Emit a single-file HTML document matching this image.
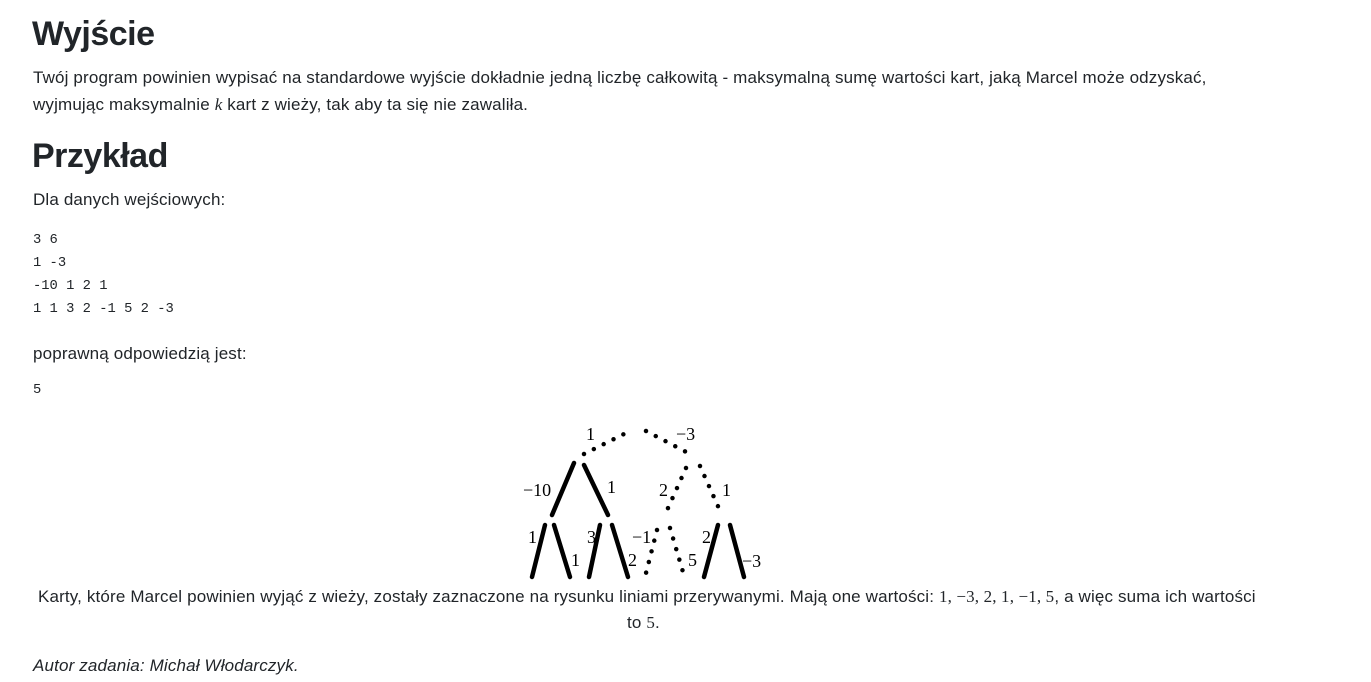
<!DOCTYPE html>
<html><head><meta charset="utf-8"><style>
body{margin:0;width:1371px;height:682px;background:#fff;color:#212529;font-family:"Liberation Sans",sans-serif;position:relative;overflow:hidden}
.a{position:absolute;white-space:nowrap}
h2{margin:0;font-size:34px;font-weight:bold;position:absolute;left:32px;letter-spacing:-0.5px}
.t{font-size:17px;letter-spacing:0.15px}
.m{font-family:"Liberation Mono",monospace;font-size:13.8px}
.i{font-family:"Liberation Serif",serif;font-style:italic}
</style></head><body>
<h2 style="top:15px">Wyjście</h2>
<div class="a t" style="left:33px;top:68px">Twój program powinien wypisać na standardowe wyjście dokładnie jedną liczbę całkowitą - maksymalną sumę wartości kart, jaką Marcel może odzyskać,</div>
<div class="a t" style="left:33px;top:95px">wyjmując maksymalnie <span class="i">k</span> kart z wieży, tak aby ta się nie zawaliła.</div>
<h2 style="top:137px">Przykład</h2>
<div class="a t" style="left:33px;top:190px">Dla danych wejściowych:</div>
<div class="a m" style="left:33px;top:229px;line-height:23px">3 6<br>1 -3<br>-10 1 2 1<br>1 1 3 2 -1 5 2 -3</div>
<div class="a t" style="left:33px;top:344px">poprawną odpowiedzią jest:</div>
<div class="a m" style="left:33px;top:383px">5</div>
<svg class="a" style="left:0;top:0" width="1371" height="682">
<g stroke="#000" stroke-width="4.5" stroke-linecap="round">
<line x1="574" y1="463" x2="552" y2="515"/><line x1="584" y1="465" x2="608" y2="515"/>
<line x1="545" y1="525" x2="532" y2="577"/><line x1="554" y1="525" x2="570" y2="577"/>
<line x1="600" y1="525" x2="589" y2="577"/><line x1="612" y1="525" x2="628" y2="577"/>
<line x1="718" y1="525" x2="704" y2="577"/><line x1="730" y1="525" x2="744" y2="577"/>
</g>
<g stroke="#000" stroke-width="4.5" stroke-linecap="round" stroke-dasharray="0 11" fill="none">
<line x1="584" y1="454" x2="628" y2="432"/><line x1="646" y1="431" x2="692" y2="455"/>
<line x1="686" y1="468" x2="664" y2="517"/><line x1="700" y1="466" x2="721" y2="513"/>
<line x1="657" y1="530" x2="645" y2="577"/><line x1="670" y1="528" x2="683" y2="572"/>
</g>
<g font-family="Liberation Serif,serif" font-size="18" fill="#000">
<text x="586" y="440">1</text><text x="676" y="440">−3</text>
<text x="523" y="496">−10</text><text x="607" y="493">1</text>
<text x="659" y="496">2</text><text x="722" y="496">1</text>
<text x="528" y="543">1</text><text x="571" y="566">1</text>
<text x="587" y="543">3</text><text x="628" y="566">2</text>
<text x="632" y="543">−1</text><text x="688" y="566">5</text>
<text x="702" y="543">2</text><text x="742" y="567">−3</text>
</g>
</svg>
<div class="a t" style="left:38px;top:587px">Karty, które Marcel powinien wyjąć z wieży, zostały zaznaczone na rysunku liniami przerywanymi. Mają one wartości: <span style="font-family:'Liberation Serif',serif">1, −3, 2, 1, −1, 5</span>, a więc suma ich wartości</div>
<div class="a t" style="left:627px;top:613px">to <span style="font-family:'Liberation Serif',serif">5</span>.</div>
<div class="a t" style="left:33px;top:656px;font-style:italic">Autor zadania: Michał Włodarczyk.</div>
</body></html>
